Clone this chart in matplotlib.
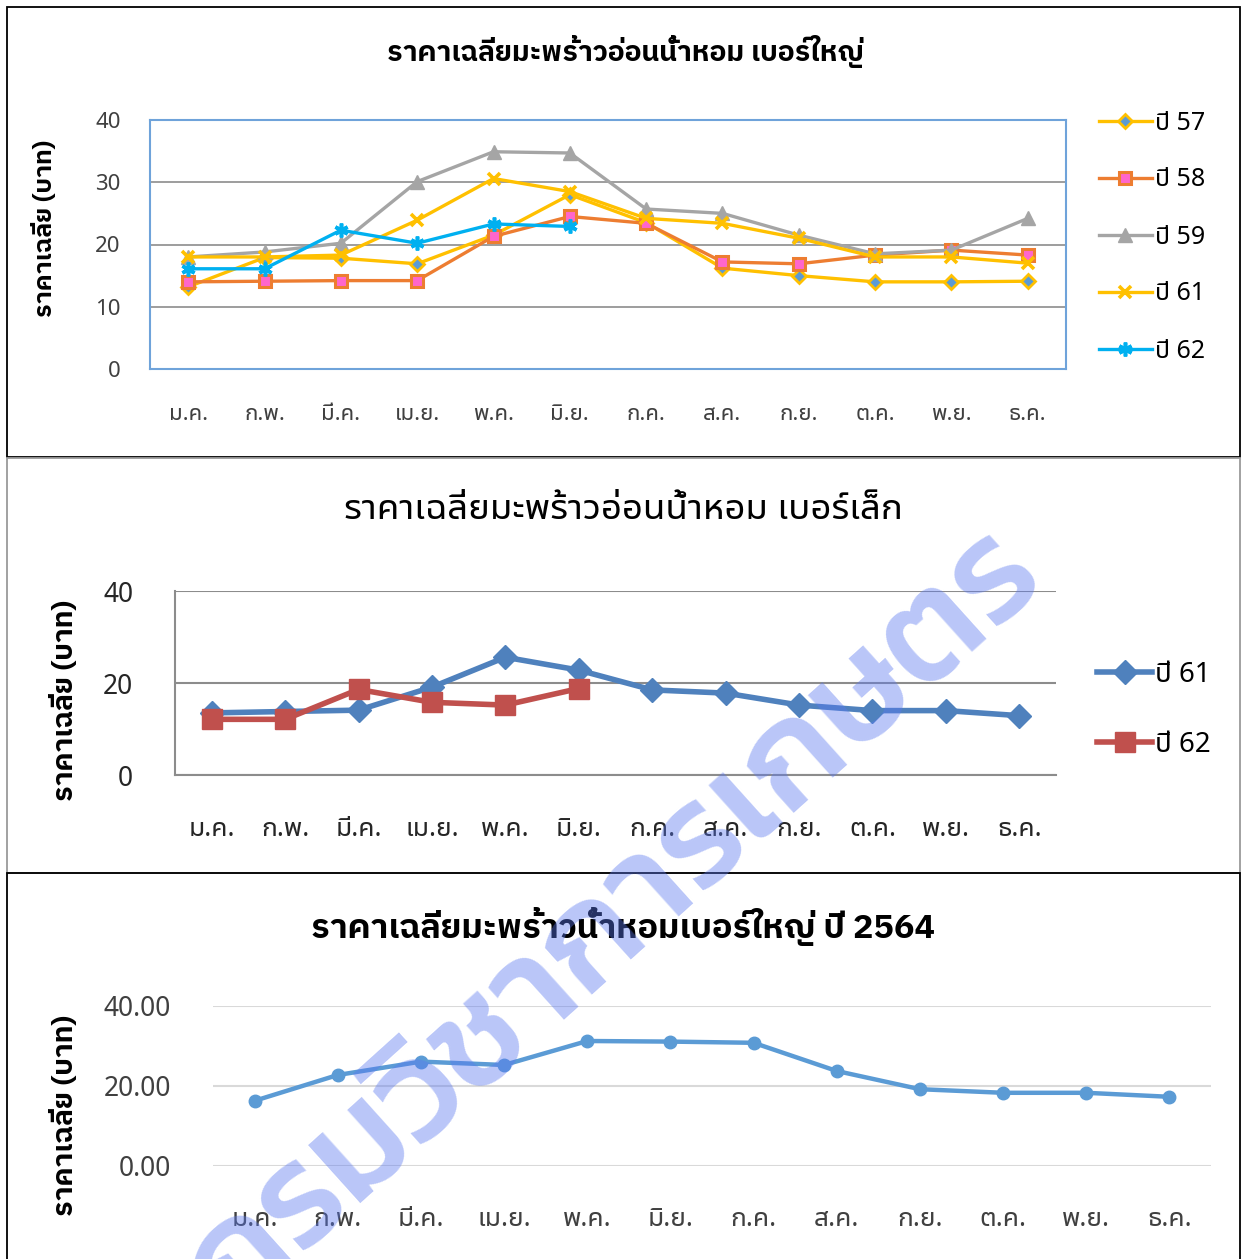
import matplotlib
matplotlib.use("Agg")
import matplotlib.pyplot as plt
from matplotlib.patches import Rectangle

# fonts with Thai glyphs
THAI = ["Noto Sans Thai UI", "Noto Sans", "DejaVu Sans"]
THAI_BOLD = ["IBM Plex Sans Thai", "Noto Sans", "DejaVu Sans"]

months = ["ม.ค.", "ก.พ.", "มี.ค.", "เม.ย.", "พ.ค.", "มิ.ย.",
          "ก.ค.", "ส.ค.", "ก.ย.", "ต.ค.", "พ.ย.", "ธ.ค."]

# large coconuts, years 57-62 (baht)
big_57 = [13.2, 17.9, 17.8, 16.9, 21.5, 28.0, 23.5, 16.2, 15.0, 14.0, 14.0, 14.1]
big_58 = [14.0, 14.1, 14.2, 14.2, 21.3, 24.5, 23.4, 17.2, 16.9, 18.3, 19.1, 18.3]
big_59 = [18.0, 18.8, 20.2, 30.1, 34.9, 34.7, 25.7, 25.0, 21.5, 18.5, 19.1, 24.2]
big_61 = [18.0, 18.0, 18.3, 23.9, 30.6, 28.5, 24.2, 23.4, 21.0, 18.0, 18.0, 17.0]
big_62 = [16.1, 16.1, 22.3, 20.2, 23.3, 22.9]

# small coconuts
small_61 = [13.5, 13.8, 14.1, 19.1, 25.6, 22.8, 18.5, 17.8, 15.2, 14.0, 14.0, 12.9]
small_62 = [12.1, 12.1, 18.6, 15.8, 15.2, 18.8]

# large coconuts, 2564
big_2564 = [16.3, 22.75, 26.1, 25.25, 31.25, 31.1, 30.8, 23.75, 19.2, 18.3, 18.3, 17.3]

W, H = 1242, 1259
fig = plt.figure(figsize=(W / 100, H / 100), dpi=100)


def px_axes(l, t, r, b):
    return fig.add_axes([l / W, 1 - b / H, (r - l) / W, (b - t) / H])


def panel(l, t, r, b, color, lw):
    fig.patches.append(Rectangle((l / W, 1 - b / H), (r - l) / W, (b - t) / H,
                                 transform=fig.transFigure, fill=False,
                                 edgecolor=color, linewidth=lw, zorder=0))


def ftext(x, y, s, **kw):
    fig.text(x / W, 1 - y / H, s, ha="center", va="center", **kw)


def style_ticks(ax, size, color, xpad, ypad):
    ax.set_xticks(range(12))
    ax.set_xticklabels(months)
    for lab in ax.get_xticklabels() + ax.get_yticklabels():
        lab.set_family(THAI)
        lab.set_fontsize(size)
    ax.tick_params(length=0, colors=color)
    ax.tick_params(axis="x", pad=xpad)
    ax.tick_params(axis="y", pad=ypad)
    ax.set_axisbelow(True)


panel(7, 7, 1240, 457, "black", 1.3)
panel(7, 458, 1240, 873, "#9a9a9a", 1.3)
panel(7, 873, 1240, 1262, "black", 1.3)

x = list(range(12))

# ---- chart 1: large coconuts by year
ax1 = px_axes(150, 120, 1066, 369)
ax1.set_xlim(-0.5, 11.5)
ax1.set_ylim(0, 40)
ax1.set_yticks([0, 10, 20, 30, 40])
ax1.grid(axis="y", color="#8c8c8c", linewidth=1.2, zorder=0)
for s in ax1.spines.values():
    s.set_color("#6fa3da")
    s.set_linewidth(1.5)
ax1.plot(x, big_57, color="#ffc000", lw=2.4, marker="D", ms=7,
         mfc="#5b9bd5", mec="#ffc000", mew=2, label="ปี 57", zorder=3)
ax1.plot(x, big_58, color="#ed7d31", lw=2.4, marker="s", ms=9,
         mfc="#ff66cc", mec="#ed7d31", mew=2.2, label="ปี 58", zorder=4)
ax1.plot(x, big_59, color="#a5a5a5", lw=2.4, marker="^", ms=10,
         label="ปี 59", zorder=5)
ax1.plot(x, big_61, color="#ffc000", lw=2.4, marker="x", ms=9, mew=2.6,
         label="ปี 61", zorder=6)
ax1.plot(range(len(big_62)), big_62, color="#00b0f0", lw=2.4,
         marker=(6, 2, 0), ms=10, mew=2.6, label="ปี 62", zorder=7)
style_ticks(ax1, 16, "#404040", 25, 21)
ax1.legend(loc="upper left", bbox_to_anchor=(1086 / W, 1 - 98 / H),
           bbox_transform=fig.transFigure, frameon=False,
           prop={"family": THAI, "size": 18}, handlelength=2.15,
           handletextpad=0.1, labelspacing=1.28, borderpad=0)
ftext(625, 51, "ราคาเฉลี่ยมะพร้าวอ่อนน้ำหอม เบอร์ใหญ่", family=THAI_BOLD,
      fontsize=20.4, fontweight="bold")
ftext(45, 228, "ราคาเฉลี่ย (บาท)", family=THAI_BOLD, fontsize=18,
      fontweight="bold", rotation=90)

# ---- chart 2: small coconuts
ax2 = px_axes(175, 591, 1056, 775)
ax2.set_xlim(-0.5, 11.5)
ax2.set_ylim(0, 40)
ax2.set_yticks([0, 20, 40])
ax2.grid(axis="y", color="#8c8c8c", linewidth=1.5, zorder=0)
for k in ["top", "right"]:
    ax2.spines[k].set_visible(False)
for k in ["left", "bottom"]:
    ax2.spines[k].set_color("#8c8c8c")
    ax2.spines[k].set_linewidth(1.5)
ax2.plot(x, small_61, color="#4f81bd", lw=4, marker="D", ms=12,
         label="ปี 61", zorder=3)
ax2.plot(range(len(small_62)), small_62, color="#c0504d", lw=4, marker="s",
         ms=15, label="ปี 62", zorder=4)
style_ticks(ax2, 19, "#262626", 29, 30)
ax2.legend(loc="upper left", bbox_to_anchor=(1083 / W, 1 - 647 / H),
           bbox_transform=fig.transFigure, frameon=False,
           prop={"family": THAI, "size": 20}, handlelength=2.0,
           handletextpad=0.1, labelspacing=1.5, borderpad=0)
ftext(623, 510, "ราคาเฉลี่ยมะพร้าวอ่อนน้ำหอม เบอร์เล็ก", family=THAI,
      fontsize=26.4)
ftext(65, 700, "ราคาเฉลี่ย (บาท)", family=THAI_BOLD, fontsize=20.4,
      fontweight="bold", rotation=90)

# ---- chart 3: large coconuts 2564
ax3 = px_axes(213, 1006, 1211, 1166)
ax3.set_xlim(-0.5, 11.5)
ax3.set_ylim(0, 40)
ax3.set_yticks([0, 20, 40])
ax3.set_yticklabels([f"{v:.2f}" for v in [0, 20, 40]])
ax3.grid(axis="y", color="#d9d9d9", linewidth=1.5, zorder=0)
for s in ax3.spines.values():
    s.set_visible(False)
ax3.plot(x, big_2564, color="#5b9bd5", lw=3.2, marker="o", ms=9, zorder=3)
style_ticks(ax3, 19, "#404040", 28, 30)
ftext(623, 926, "ราคาเฉลี่ยมะพร้าวน้ำหอมเบอร์ใหญ่ ปี 2564", family=THAI_BOLD,
      fontsize=24.7, fontweight="bold")
ftext(65, 1115, "ราคาเฉลี่ย (บาท)", family=THAI_BOLD, fontsize=20.4,
      fontweight="bold", rotation=90)

# diagonal watermark across the lower charts
fig.text(1047 / W, 1 - 580 / H, "กรมวิชาการเกษตร", rotation=42,
         rotation_mode="anchor", ha="right", va="baseline",
         family=["Kanit", "Noto Sans Thai UI"], fontweight="medium",
         fontsize=104, color="#5a78f0", alpha=0.42, zorder=20)

fig.savefig("out.png", dpi=100)
